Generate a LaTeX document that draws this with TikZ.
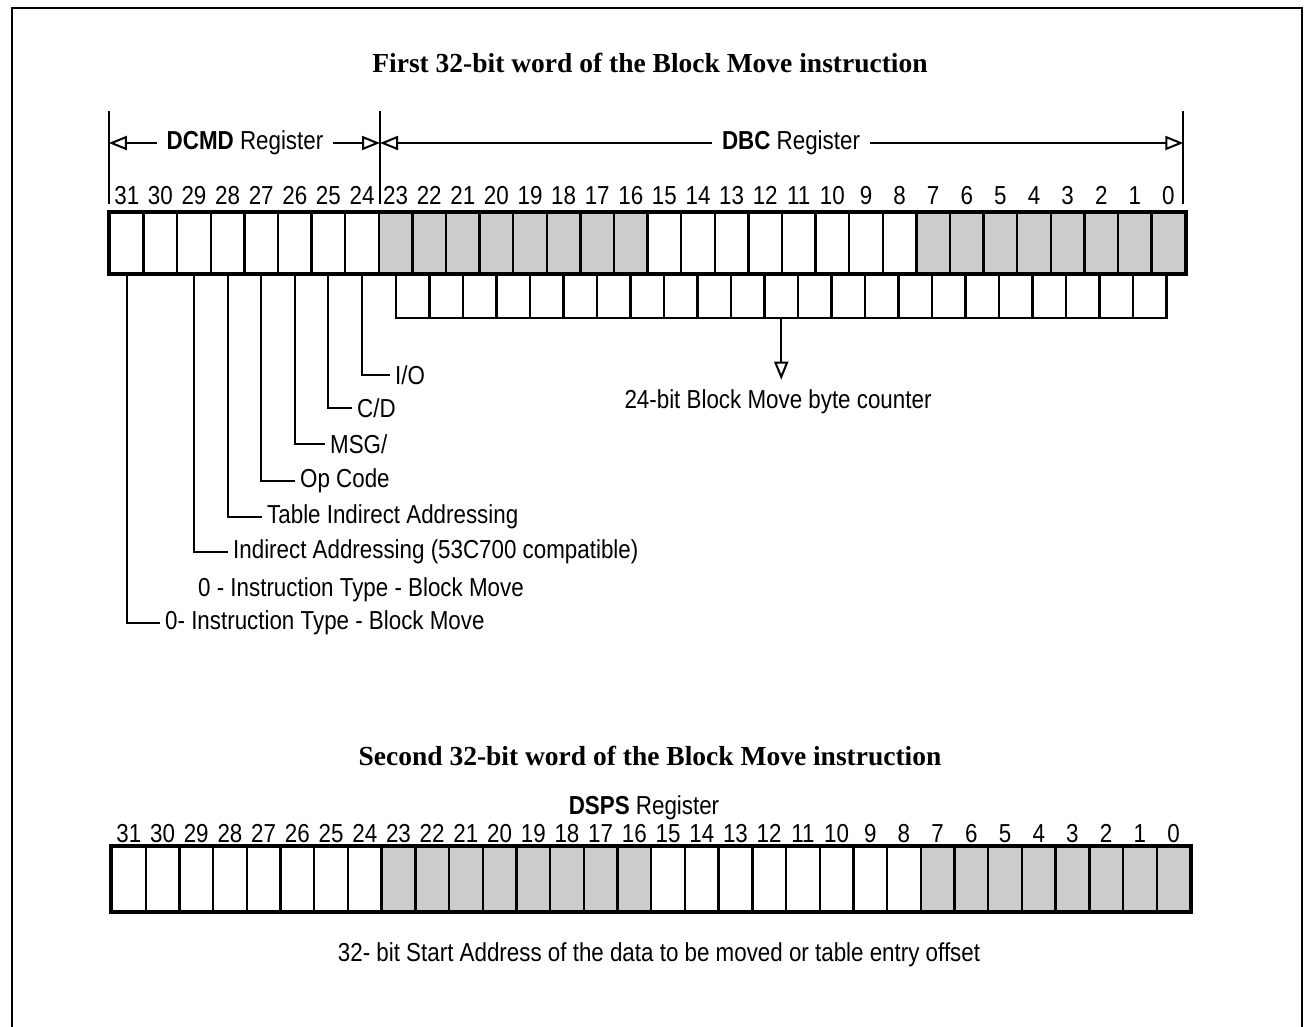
\documentclass[tikz,border=0pt]{standalone}
\usepackage{fontspec}
\setmainfont{Liberation Sans}[FakeStretch=0.86]
\newfontfamily\ttlfont{Liberation Serif}
\usetikzlibrary{arrows.meta,positioning}

\begin{document}
\begin{tikzpicture}[x=1pt,y=-1pt,>={Triangle[open,length=18pt,width=14pt]},
  cell/.style={draw,line width=2.4pt,minimum width=33.6pt,minimum height=60pt,inner sep=0pt},
  cnt/.style={draw,line width=2.2pt,minimum width=33.5pt,minimum height=45pt,inner sep=0pt},
  grp0/.style={fill=black!20}, grp1/.style={fill=white},
  grp2/.style={fill=black!20}, grp3/.style={fill=white},
  lbl/.style={font=\fontsize{26}{30}\selectfont,inner sep=0pt},
  ttl/.style={font=\ttlfont\bfseries\fontsize{27.5}{32}\selectfont},
  reg/.style={lbl,inner xsep=10pt},
  conn/.style={line width=2pt,shorten >=5pt},
  tick/.style={line width=2pt}]
  \useasboundingbox (0,0) rectangle (1305,1026);
  \draw[line width=2pt] (12,1030)--(12,8)--(1302,8)--(1302,1030);

  % first word
  \node[ttl] (ttl1) at (650,63) {First 32-bit word of the Block Move instruction};
  \foreach \b in {31,...,0}{
    \pgfmathtruncatemacro\g{floor(\b/8)}
    \node[cell,grp\g] (c\b) at ({110+33.6*(31-\b)+16.8},243) {};
    \node[lbl,above=7pt of c\b.north] (n\b) {\b};
  }
  \draw[line width=3pt] (c31.north west) rectangle (c0.south east);
  \foreach \i in {1,...,23}
    \node[cnt] (k\i) at ({396+33.5*(\i-0.5)},295.5) {};

  \draw[tick] (c31.north west)++(0,-8)--++(0,-93);
  \draw[tick] (c24.north east)++(0,-8)--++(0,-93);
  \draw[tick] (c0.north east)++(-3,-8)--++(0,-93);
  \node[reg] (dcmd) at (245,143) {\textbf{DCMD} Register};
  \node[reg] (dbc) at (791,143) {\textbf{DBC} Register};
  \draw[->,line width=2pt] (dcmd.west) -- (dcmd.west -| c31.north west);
  \draw[->,line width=2pt] (dcmd.east) -- (dcmd.east -| c24.north east);
  \draw[->,line width=2pt] (dbc.west) -- (dbc.west -| c24.north east);
  \draw[->,line width=2pt] (dbc.east) -- ([xshift=-3pt]dbc.east -| c0.north east);

  \node[lbl] (bytes) at (778,402) {24-bit Block Move byte counter};
  \draw[->,line width=2pt,shorten >=10pt] (k12.south) -- (k12.south |- bytes.north);

  \node[lbl,anchor=west] (io) at (395,375) {I/O};
  \node[lbl,anchor=west] (cd) at (357,408) {C/D};
  \node[lbl,anchor=west] (msg) at (330,444) {MSG/};
  \node[lbl,anchor=west] (op) at (300,481) {Op Code};
  \node[lbl,anchor=west] (tia) at (267,517) {Table Indirect Addressing};
  \node[lbl,anchor=west] (ia) at (233,552) {Indirect Addressing (53C700 compatible)};
  \node[lbl,anchor=west] (typ30) at (198,590) {0 - Instruction Type - Block Move};
  \node[lbl,anchor=west] (typ31) at (165,623) {0- Instruction Type - Block Move};
  \draw[conn] (c24.south) |- (io.west);
  \draw[conn] (c25.south) |- (cd.west);
  \draw[conn] (c26.south) |- (msg.west);
  \draw[conn] (c27.south) |- (op.west);
  \draw[conn] (c28.south) |- (tia.west);
  \draw[conn] (c29.south) |- (ia.west);
  \draw[conn] (c31.south) |- (typ31.west);

  % second word
  \node[ttl] (ttl2) at (650,756) {Second 32-bit word of the Block Move instruction};
  \node[lbl] (dsps) at (644,808) {\textbf{DSPS} Register};
  \foreach \b in {31,...,0}{
    \pgfmathtruncatemacro\g{floor(\b/8)}
    \node[cell,grp\g,minimum width=33.7pt,minimum height=64pt] (d\b) at ({112+33.7*(31-\b)+16.85},879) {};
    \node[lbl,above=3pt of d\b.north] (m\b) {\b};
  }
  \draw[line width=3pt] (d31.north west) rectangle (d0.south east);
  \node[lbl] (addr) at (659,955) {32- bit Start Address of the data to be moved or table entry offset};
\end{tikzpicture}
\end{document}
